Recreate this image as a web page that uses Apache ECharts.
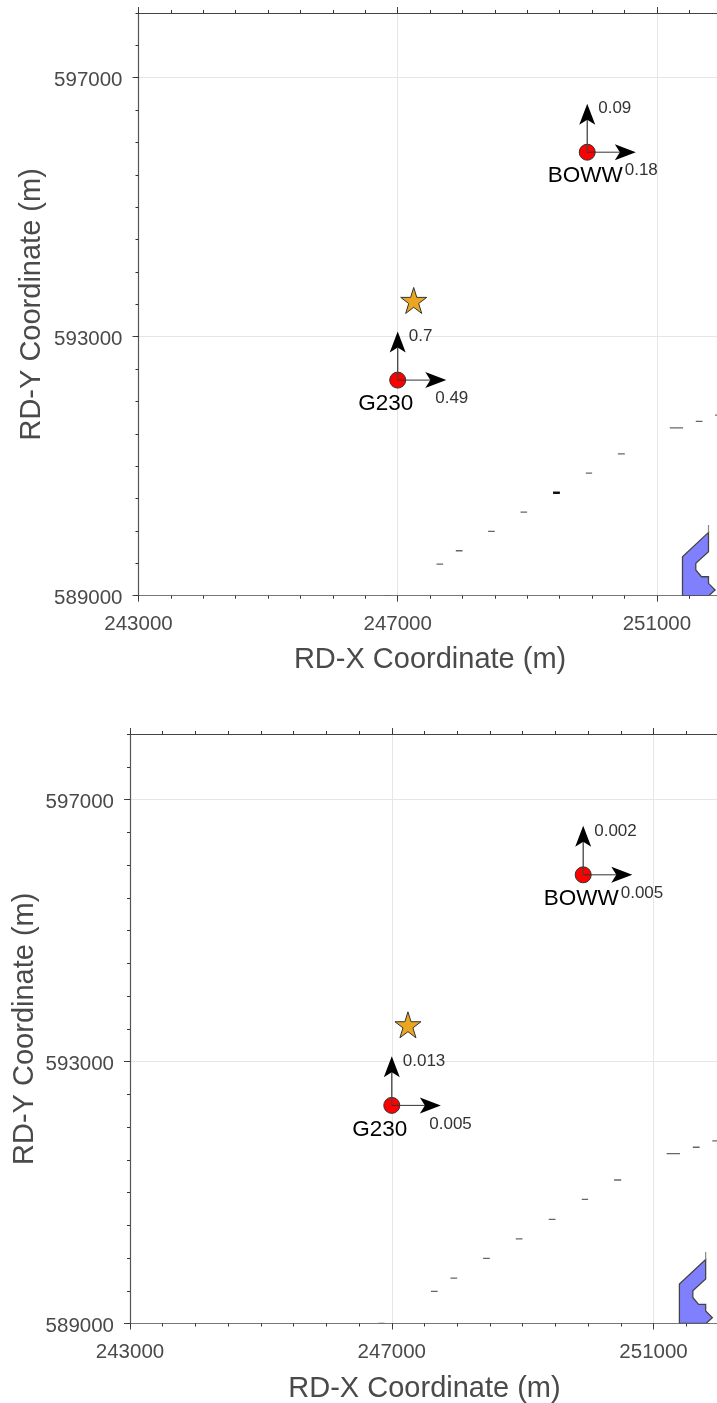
<!DOCTYPE html>
<html><head><meta charset="utf-8">
<style>html,body{margin:0;padding:0;background:#fff}#c{width:717px;height:1403px}</style>
<script src="https://cdn.jsdelivr.net/npm/echarts@6/dist/echarts.min.js"></script>
</head><body><div id="c"></div>
<script>
const xTicks = [243000, 247000, 251000];
const yTicks = [589000, 593000, 597000];
const xRange = [243000, 252000];
const yRange = [589000, 598000];
const xTitle = 'RD-X Coordinate (m)';
const yTitle = 'RD-Y Coordinate (m)';

const stationNames = ['BOWW', 'G230'];
const stationX = [249925, 247000];
const stationY = [595850, 592330];
const arrowLength = 750;
const starPoint = [247247, 593560];

const eastLabelsTop = ['0.18', '0.49'];
const northLabelsTop = ['0.09', '0.7'];
const eastLabelsBottom = ['0.005', '0.005'];
const northLabelsBottom = ['0.002', '0.013'];

const lakeOutline = [
  [251395, 589000], [251395, 589602], [251796, 589978], [251796, 589679],
  [251600, 589500], [251600, 589397], [251688, 589293], [251796, 589293],
  [251796, 589191], [251898, 589088], [251800, 589000]
];
const lakeSpike = [[251796, 589978], [251796, 590091]];
const shoreDashes = [
  [246796, 246889, 589000], [247599, 247701, 589489], [247897, 248000, 589694],
  [248395, 248498, 589994], [248895, 248997, 590292], [249398, 249502, 590590],
  [249903, 250000, 590894], [250397, 250505, 591191], [251199, 251404, 591593],
  [251600, 251704, 591691], [251898, 252000, 591789]
];
const heavyDashTop = [249398, 249502, 590590];

const STAR = 'path://M50 0L61.8 36.3L100 36.3L69.1 58.8L80.9 95.1L50 72.6L19.1 95.1L30.9 58.8L0 36.3L38.2 36.3Z';
const FONT = '"Liberation Sans", Arial, sans-serif';
const TEXT = '#4a4a4a';

const chart = echarts.init(document.getElementById('c'), null, {renderer: 'canvas'});
const grids = [], xAxes = [], yAxes = [], series = [];

function panel(box, eastLabels, northLabels, heavy, xNameGap, yNameGap) {
  const g = grids.length;
  grids.push({...box, outerBoundsMode: 'none', containLabel: false});
  const xBase = {gridIndex: g, type: 'value', min: xRange[0], max: xRange[1], scale: true};
  const yBase = {gridIndex: g, type: 'value', min: yRange[0], max: yRange[1], scale: true};
  const line = c => ({show: true, onZero: false, lineStyle: {color: c, width: 1.2}});
  const minorTick = {show: true, length: 3, lineStyle: {color: '#333', width: 1}};
  const majorTick = {show: true, length: 6, lineStyle: {color: '#444', width: 1}};
  const split = {show: true, lineStyle: {color: '#e6e6e6', width: 1}};
  const x0 = xAxes.length, y0 = yAxes.length;
  xAxes.push({...xBase, position: 'bottom', axisLine: line('#777'),
    axisTick: {...majorTick, customValues: xTicks},
    axisLabel: {customValues: xTicks, formatter: v => String(v), color: TEXT, fontSize: 20.5, fontFamily: FONT, margin: 18},
    splitLine: split, name: xTitle, nameLocation: 'middle', nameGap: xNameGap, nameMoveOverlap: false,
    nameTextStyle: {color: TEXT, fontSize: 29, fontFamily: FONT}});
  xAxes.push({...xBase, position: 'bottom', interval: 500, axisLine: {show: false},
    axisTick: minorTick, axisLabel: {show: false}, splitLine: {show: false}});
  xAxes.push({...xBase, position: 'top', axisLine: line('#444'),
    axisTick: {...majorTick, customValues: xTicks},
    axisLabel: {show: false}, splitLine: {show: false}});
  xAxes.push({...xBase, position: 'top', interval: 500, axisLine: {show: false},
    axisTick: minorTick, axisLabel: {show: false}, splitLine: {show: false}});
  yAxes.push({...yBase, position: 'left', axisLine: line('#555'),
    axisTick: {...majorTick, customValues: yTicks},
    axisLabel: {customValues: yTicks, formatter: v => String(v), color: TEXT, fontSize: 20.5, fontFamily: FONT, margin: 16, verticalAlign: 'top', lineHeight: 5},
    splitLine: split, name: yTitle, nameLocation: 'middle', nameGap: yNameGap, nameMoveOverlap: false,
    nameTextStyle: {color: TEXT, fontSize: 29, fontFamily: FONT}});
  yAxes.push({...yBase, position: 'left', interval: 500, axisLine: {show: false},
    axisTick: minorTick, axisLabel: {show: false}, splitLine: {show: false}});

  const axes = {xAxisIndex: x0, yAxisIndex: y0};

  series.push({type: 'custom', ...axes, silent: true, z: 3, clip: true,
    data: lakeOutline,
    renderItem: (p, api) => p.dataIndex === 0 ? {type: 'polygon',
      shape: {points: lakeOutline.map(d => api.coord(d))},
      style: {fill: '#8080ff', stroke: '#444', lineWidth: 1.3}} : null});
  series.push({type: 'line', ...axes, silent: true, z: 3, symbol: 'none', data: lakeSpike,
    lineStyle: {color: '#888', width: 1.2}});
  series.push({type: 'custom', ...axes, silent: true, z: 3, clip: true, data: shoreDashes,
    renderItem: (p, api) => {
      const a = api.coord([api.value(0), api.value(2)]), b = api.coord([api.value(1), api.value(2)]);
      return {type: 'line', shape: {x1: a[0], y1: a[1], x2: b[0], y2: b[1]},
        style: {stroke: '#666', lineWidth: 1.3}};
    }});
  if (heavy) series.push({type: 'custom', ...axes, silent: true, z: 3, data: [heavy],
    renderItem: (p, api) => {
      const a = api.coord([api.value(0), api.value(2)]), b = api.coord([api.value(1), api.value(2)]);
      return {type: 'line', shape: {x1: a[0], y1: a[1], x2: b[0], y2: b[1]},
        style: {stroke: '#111', lineWidth: 2.5}};
    }});
  series.push({type: 'scatter', ...axes, silent: true, z: 4, symbol: STAR, symbolSize: 26,
    data: [starPoint], itemStyle: {color: '#eaa620', opacity: 1, borderColor: '#333', borderWidth: 1}});
  series.push({type: 'scatter', ...axes, silent: true, z: 4, symbol: 'circle', symbolSize: 16,
    data: stationX.map((x, i) => [x, stationY[i]]),
    itemStyle: {color: '#ff0000', opacity: 1, borderColor: '#333', borderWidth: 1}});
  series.push({type: 'custom', ...axes, silent: true, z: 5, clip: false,
    data: stationNames.map((n, i) => [stationX[i], stationY[i]]),
    renderItem: (p, api) => {
      const i = p.dataIndex;
      const o = api.coord([api.value(0), api.value(1)]);
      const e = api.coord([api.value(0) + arrowLength, api.value(1)]);
      const n = api.coord([api.value(0), api.value(1) + arrowLength]);
      const head = 21, w = 8, notch = 16;
      return {type: 'group', children: [
        {type: 'line', shape: {x1: o[0], y1: o[1], x2: e[0] - notch, y2: e[1]}, style: {stroke: '#333', lineWidth: 1}},
        {type: 'line', shape: {x1: o[0], y1: o[1], x2: n[0], y2: n[1] + notch}, style: {stroke: '#444', lineWidth: 1.3}},
        {type: 'polygon', shape: {points: [[e[0], e[1]], [e[0] - head, e[1] - w], [e[0] - notch, e[1]], [e[0] - head, e[1] + w]]}, style: {fill: '#000'}},
        {type: 'polygon', shape: {points: [[n[0], n[1]], [n[0] - w, n[1] + head], [n[0], n[1] + notch], [n[0] + w, n[1] + head]]}, style: {fill: '#000'}},
        {type: 'text', x: o[0] - 39.5, y: o[1] + 24, style: {text: stationNames[i], fill: '#000', font: '22.5px ' + FONT, textAlign: 'left', textVerticalAlign: 'middle'}},
        {type: 'text', x: o[0] + 37.5, y: o[1] + 18.5, style: {text: eastLabels[i], fill: '#333', font: '17px ' + FONT, textAlign: 'left', textVerticalAlign: 'middle'}},
        {type: 'text', x: o[0] + 11, y: o[1] - 44, style: {text: northLabels[i], fill: '#333', font: '17px ' + FONT, textAlign: 'left', textVerticalAlign: 'middle'}}
      ]};
    }});
}

panel({left: 138.5, top: 13, width: 583.2, height: 582.7}, eastLabelsTop, northLabelsTop, heavyDashTop, 50, 92);
panel({left: 130, top: 734, width: 589, height: 589.5}, eastLabelsBottom, northLabelsBottom, null, 51, 91);

chart.setOption({backgroundColor: '#fff', animation: false, grid: grids, xAxis: xAxes, yAxis: yAxes, series});
</script></body></html>
